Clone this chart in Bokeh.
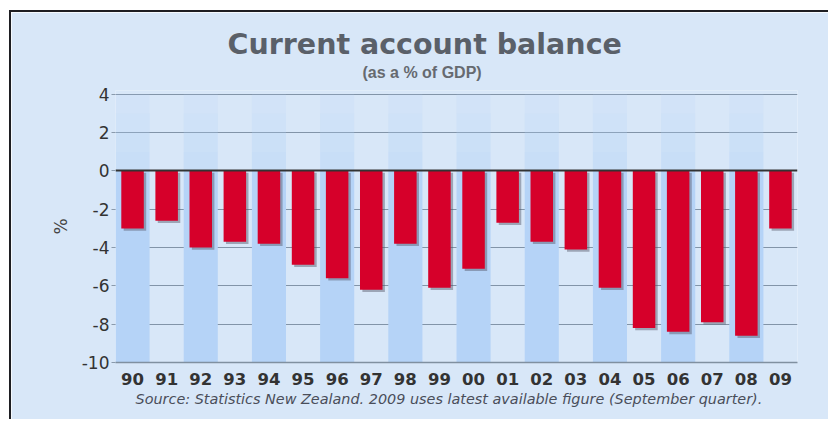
from bokeh.plotting import figure
from bokeh.models import Range1d, Title, FixedTicker, ColumnDataSource
from bokeh.transform import dodge
from bokeh.embed import file_html
from bokeh.resources import INLINE

years = ["90", "91", "92", "93", "94", "95", "96", "97", "98", "99",
         "00", "01", "02", "03", "04", "05", "06", "07", "08", "09"]
balance = [-3.0, -2.6, -4.0, -3.7, -3.8, -4.9, -5.6, -6.2, -3.8, -6.1,
           -5.1, -2.7, -3.7, -4.1, -6.1, -8.2, -8.4, -7.9, -8.6, -3.0]
y_ticks = [-10, -8, -6, -4, -2, 0, 2, 4]
title_text = "Current account balance"
subtitle_text = "(as a % of GDP)"
source_text = "Source: Statistics New Zealand. 2009 uses latest available figure (September quarter)."

BG = "#d8e7f8"
W, H = 819, 409
p = figure(x_range=years, y_range=Range1d(-10, 4.2), width=W, height=H,
           output_backend="svg", toolbar_location=None,
           min_border_left=104, min_border_right=33, min_border_top=78, min_border_bottom=59)
p.margin = (10, 0, 0, 9)
p.styles = {"border-top": "2px solid #1e1e22", "border-left": "2px solid #1e1e22"}
p.background_fill_color = BG
p.border_fill_color = BG
p.outline_line_color = None

# alternating bands
even = years[0::2]
p.vbar(x=even, top=0, bottom=-10, width=1.0, color="#b5d3f7", line_color=None)
for i, a in enumerate([0.45, 0.35, 0.25, 0.15]):
    p.vbar(x=even, top=i + 1, bottom=i, width=1.0, color="#b5d3f7", alpha=a, line_color=None)

src = ColumnDataSource(dict(x=years, top=[0] * len(years), bottom=balance,
                            sb=[b - 0.12 for b in balance]))
# shadow
p.vbar(x=dodge("x", 0.07, range=p.x_range), top=-0.1, bottom="sb", width=0.66,
       source=src, color="#555566", alpha=0.45, line_color=None)
p.vbar(x="x", top="top", bottom="bottom", width=0.66, source=src,
       color="#d6002a", line_color=None)

# axes
p.yaxis.ticker = FixedTicker(ticks=y_ticks)
p.yaxis.major_label_overrides = {t: str(t) for t in y_ticks}
p.yaxis.axis_line_color = None
p.yaxis.major_tick_line_color = "#8a9aac"
p.yaxis.major_tick_in = 0
p.yaxis.major_tick_out = 4
p.yaxis.minor_tick_line_color = None
p.yaxis.major_label_standoff = 2
p.yaxis.major_label_text_font = "DejaVu Sans"
p.yaxis.major_label_text_font_size = "17px"
p.yaxis.major_label_text_color = "#333333"
p.yaxis.axis_label = "%"
p.yaxis.axis_label_text_font = "DejaVu Sans"
p.yaxis.axis_label_text_font_style = "normal"
p.yaxis.axis_label_text_font_size = "17px"
p.yaxis.axis_label_text_color = "#444444"
p.yaxis.axis_label_standoff = 8

p.xaxis.axis_line_color = "#8090a0"
p.xaxis.axis_line_width = 1.5
p.xaxis.major_tick_line_color = None
p.xaxis.minor_tick_line_color = None
p.xaxis.major_label_standoff = 4
p.xaxis.major_label_text_font = "DejaVu Sans"
p.xaxis.major_label_text_font_style = "bold"
p.xaxis.major_label_text_font_size = "16.5px"
p.xaxis.major_label_text_color = "#333333"

p.xgrid.grid_line_color = None
p.ygrid.ticker = FixedTicker(ticks=[-8, -6, -4, -2, 2, 4])
p.ygrid.grid_line_color = "#8294a8"
p.ygrid.grid_line_width = 1.2
p.hspan(y=[0], line_color="#333333", line_width=2)

# titles as layout panels, left-aligned with pixel offsets from the frame's left edge
p.title = None
p.add_layout(Title(text=subtitle_text, align="left", offset=247, standoff=19,
                   text_font="Liberation Sans", text_font_style="bold",
                   text_font_size="16px", text_color="#666a70"), "above")
p.add_layout(Title(text=title_text, align="left", offset=112, standoff=-16,
                   text_font="DejaVu Sans", text_font_style="bold",
                   text_font_size="28.5px", text_color="#5a6069"), "above")
p.add_layout(Title(text=source_text, align="left", offset=20, standoff=2,
                   text_font="DejaVu Sans", text_font_style="italic",
                   text_font_size="14.4px", text_color="#4a4e5a"), "below")

open("out.html", "w").write(file_html(p, INLINE))
